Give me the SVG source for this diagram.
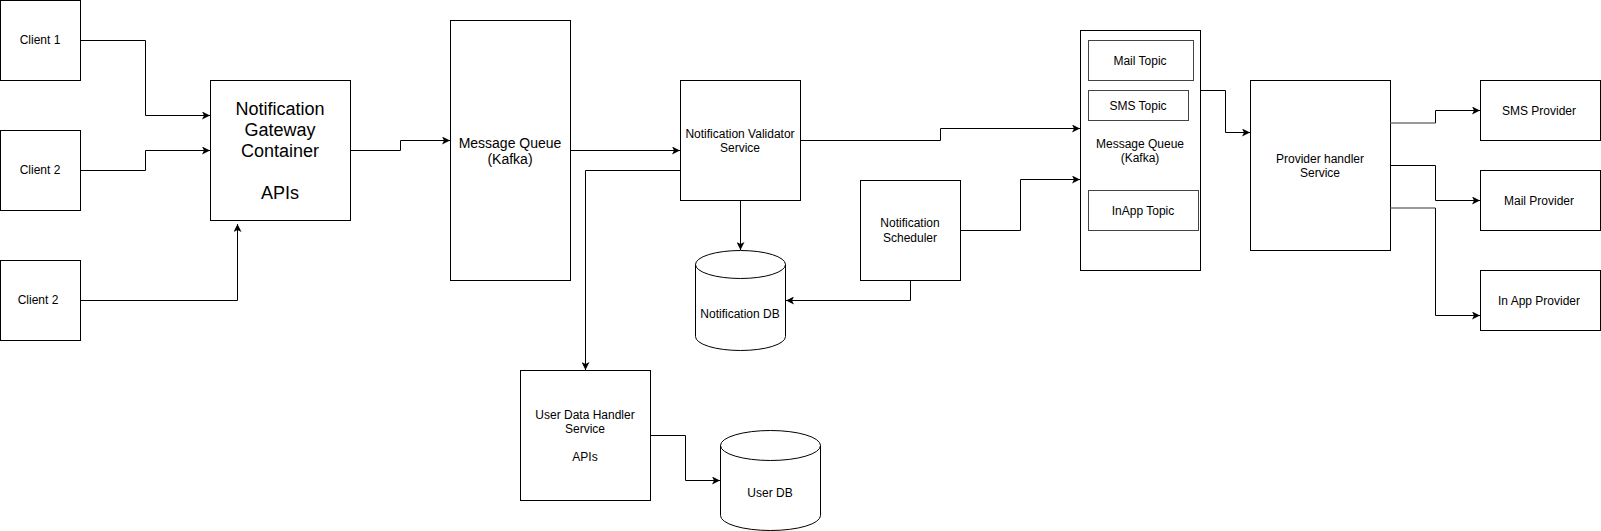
<svg xmlns="http://www.w3.org/2000/svg" width="1601" height="531" viewBox="0 0 1601 531">
<style>
.box{fill:#fff;stroke:#000;stroke-width:1}
.topic{fill:#fff;stroke:#444;stroke-width:1}
.t{font-family:"Liberation Sans",Arial,sans-serif;font-size:12px;fill:#000;text-anchor:middle}
.t14{font-family:"Liberation Sans",Arial,sans-serif;font-size:14px;fill:#000;text-anchor:middle}
.t18{font-family:"Liberation Sans",Arial,sans-serif;font-size:18px;fill:#000;text-anchor:middle}
.c{fill:none;stroke:#000;stroke-width:1}
.g{fill:none;stroke:#777;stroke-width:1.5}
</style>
<defs>
<marker id="arr" markerWidth="9" markerHeight="8" refX="8" refY="4" orient="auto" markerUnits="userSpaceOnUse">
<path d="M0,0 L8,4 L0,8 L2,4 z" fill="#000"/>
</marker>
</defs>
<rect width="1601" height="531" fill="#fff"/>
<g id="client1"><rect class="box" x="0.5" y="0.5" width="80" height="80"/><text class="t" x="40" y="44">Client 1</text></g>
<g id="client2"><rect class="box" x="0.5" y="130.5" width="80" height="80"/><text class="t" x="40" y="174">Client 2</text></g>
<g id="client3"><rect class="box" x="0.5" y="260.5" width="80" height="80"/><text class="t" x="38" y="304">Client 2</text></g>
<g id="gateway"><rect class="box" x="210.5" y="80.5" width="140" height="140"/>
<text class="t18" x="280" y="115">Notification</text><text class="t18" x="280" y="136">Gateway</text><text class="t18" x="280" y="157">Container</text><text class="t18" x="280" y="199">APIs</text></g>
<g id="mq1"><rect class="box" x="450.5" y="20.5" width="120" height="260"/><text class="t14" x="510" y="148">Message Queue</text><text class="t14" x="510" y="164">(Kafka)</text></g>
<g id="validator"><rect class="box" x="680.5" y="80.5" width="120" height="120"/><text class="t" x="740" y="138">Notification Validator</text><text class="t" x="740" y="152">Service</text></g>
<g id="notifdb"><path class="box" d="M695.5,264.5 A45,14 0 0 1 785.5,264.5 L785.5,336.5 A45,14 0 0 1 695.5,336.5 Z"/><path class="c" d="M695.5,264.5 A45,14 0 0 0 785.5,264.5"/><text class="t" x="740" y="318">Notification DB</text></g>
<g id="userhandler"><rect class="box" x="520.5" y="370.5" width="130" height="130"/><text class="t" x="585" y="419">User Data Handler</text><text class="t" x="585" y="433">Service</text><text class="t" x="585" y="461">APIs</text></g>
<g id="userdb"><path class="box" d="M720.5,445.5 A50,15 0 0 1 820.5,445.5 L820.5,515.5 A50,15 0 0 1 720.5,515.5 Z"/><path class="c" d="M720.5,445.5 A50,15 0 0 0 820.5,445.5"/><text class="t" x="770" y="497">User DB</text></g>
<g id="scheduler"><rect class="box" x="860.5" y="180.5" width="100" height="100"/><text class="t" x="910" y="227">Notification</text><text class="t" x="910" y="242">Scheduler</text></g>
<g id="mq2"><rect class="box" x="1080.5" y="30.5" width="120" height="240"/>
<text class="t" x="1140" y="148">Message Queue</text><text class="t" x="1140" y="162">(Kafka)</text></g>
<g id="mailtopic"><rect class="topic" x="1088.5" y="40.5" width="105" height="40"/><text class="t" x="1140" y="65">Mail Topic</text></g>
<g id="smstopic"><rect class="topic" x="1088.5" y="90.5" width="100" height="30"/><text class="t" x="1138" y="110">SMS Topic</text></g>
<g id="inapptopic"><rect class="topic" x="1088.5" y="190.5" width="110" height="40"/><text class="t" x="1143" y="215">InApp Topic</text></g>
<g id="provider"><rect class="box" x="1250.5" y="80.5" width="140" height="170"/><text class="t" x="1320" y="163">Provider handler</text><text class="t" x="1320" y="177">Service</text></g>
<g id="smsprov"><rect class="box" x="1480.5" y="80.5" width="120" height="60"/><text class="t" x="1539" y="115">SMS Provider</text></g>
<g id="mailprov"><rect class="box" x="1480.5" y="170.5" width="120" height="60"/><text class="t" x="1539" y="205">Mail Provider</text></g>
<g id="inappprov"><rect class="box" x="1480.5" y="270.5" width="120" height="60"/><text class="t" x="1539" y="305">In App Provider</text></g>
<g id="connectors">
<path class="c" d="M80.5,40.5 H145.5 V115.5 H210" marker-end="url(#arr)"/>
<path class="c" d="M80.5,170.5 H145.5 V150.5 H210" marker-end="url(#arr)"/>
<path class="c" d="M80.5,300.5 H237.5 V224" marker-end="url(#arr)"/>
<path class="c" d="M350.5,150.5 H400.5 V140.5 H450" marker-end="url(#arr)"/>
<path class="c" d="M570.5,150.5 H680" marker-end="url(#arr)"/>
<path class="c" d="M680.5,170.5 H585.5 V370" marker-end="url(#arr)"/>
<path class="c" d="M740.5,200.5 V250" marker-end="url(#arr)"/>
<path class="c" d="M910.5,280.5 V300.5 H786" marker-end="url(#arr)"/>
<path class="c" d="M800.5,140.5 H940.5 V128.5 H1080" marker-end="url(#arr)"/>
<path class="c" d="M960.5,230.5 H1020.5 V179.5 H1080" marker-end="url(#arr)"/>
<path class="c" d="M650.5,435.5 H685.5 V480.5 H720" marker-end="url(#arr)"/>
<path class="c" d="M1200.5,90.5 H1225.5 V132.5 H1250" marker-end="url(#arr)"/>
<path class="g" d="M1390.5,123 H1435.5"/>
<path class="c" d="M1435.5,123 V110.5 H1480" marker-end="url(#arr)"/>
<path class="c" d="M1390.5,165.5 H1435.5 V200.5 H1480" marker-end="url(#arr)"/>
<path class="g" d="M1390.5,208 H1435.5"/>
<path class="c" d="M1435.5,208 V315.5 H1480" marker-end="url(#arr)"/>
</g>
</svg>
